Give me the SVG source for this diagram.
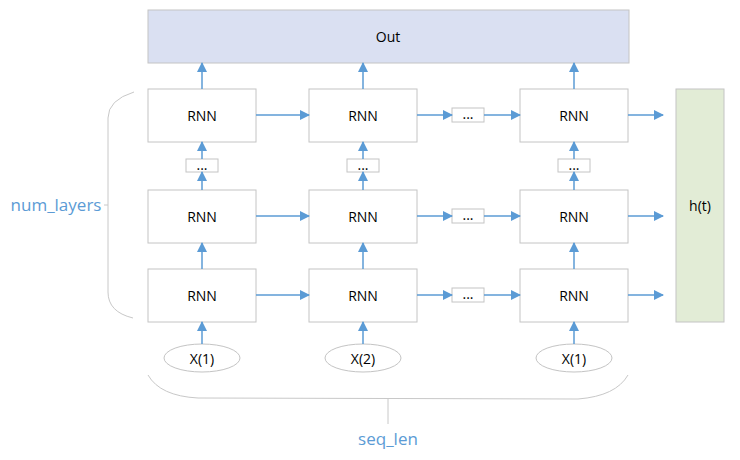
<svg xmlns="http://www.w3.org/2000/svg" width="740" height="460" viewBox="0 0 740 460">
<defs>
<marker id="ah" markerWidth="10" markerHeight="10" refX="9" refY="5" orient="auto" markerUnits="userSpaceOnUse">
<path d="M0,0 L10,5 L0,10 Z" fill="#5b9bd5"/>
</marker>
<style>
.box{fill:#ffffff;stroke:#c4c4c4;stroke-width:1}
.dot{fill:#ffffff;stroke:#c4c4c4;stroke-width:1}
.t{font-family:"Open Sans","Liberation Sans",sans-serif;font-size:14px;fill:#000;text-anchor:middle;dominant-baseline:central}
.lbl{font-family:"Open Sans","Liberation Sans",sans-serif;font-size:17px;fill:#5b9bd5;text-anchor:middle;dominant-baseline:central}
.c{stroke:#5b9bd5;stroke-width:1.5;fill:none;marker-end:url(#ah)}
.br{stroke:#c8c8c8;stroke-width:1;fill:none}
</style>
</defs>
<rect width="740" height="460" fill="#ffffff"/>
<g id="out"><rect x="148" y="10" width="481" height="53" fill="#dae0f2" stroke="#c4c4c4"/><text class="t" x="388" y="36">Out</text></g>
<g id="ht"><rect x="676" y="89" width="48" height="233" fill="#e2ecd6" stroke="#c4c4c4"/><text class="t" x="700" y="205">h(t)</text></g>
<g id="r11"><rect class="box" x="148" y="89" width="108" height="53"/><text class="t" x="202" y="115">RNN</text></g>
<g id="r12"><rect class="box" x="309" y="89" width="108" height="53"/><text class="t" x="363" y="115">RNN</text></g>
<g id="r13"><rect class="box" x="520" y="89" width="108" height="53"/><text class="t" x="574" y="115">RNN</text></g>
<g id="r21"><rect class="box" x="148" y="190" width="108" height="53"/><text class="t" x="202" y="216">RNN</text></g>
<g id="r22"><rect class="box" x="309" y="190" width="108" height="53"/><text class="t" x="363" y="216">RNN</text></g>
<g id="r23"><rect class="box" x="520" y="190" width="108" height="53"/><text class="t" x="574" y="216">RNN</text></g>
<g id="r31"><rect class="box" x="148" y="269" width="108" height="53"/><text class="t" x="202" y="295">RNN</text></g>
<g id="r32"><rect class="box" x="309" y="269" width="108" height="53"/><text class="t" x="363" y="295">RNN</text></g>
<g id="r33"><rect class="box" x="520" y="269" width="108" height="53"/><text class="t" x="574" y="295">RNN</text></g>
<g id="dv1"><rect class="dot" x="186" y="159" width="32" height="13"/><text class="t" x="202" y="164">...</text></g>
<g id="dv2"><rect class="dot" x="347" y="159" width="32" height="13"/><text class="t" x="363" y="164">...</text></g>
<g id="dv3"><rect class="dot" x="558" y="159" width="32" height="13"/><text class="t" x="574" y="164">...</text></g>
<g id="dh1"><rect class="dot" x="452" y="108" width="32" height="14"/><text class="t" x="468" y="113">...</text></g>
<g id="dh2"><rect class="dot" x="452" y="209" width="32" height="14"/><text class="t" x="468" y="214">...</text></g>
<g id="dh3"><rect class="dot" x="452" y="288" width="32" height="14"/><text class="t" x="468" y="293">...</text></g>
<g id="x1"><ellipse cx="202" cy="358" rx="38" ry="14" fill="#fff" stroke="#c4c4c4"/><text class="t" x="202" y="358">X(1)</text></g>
<g id="x2"><ellipse cx="363" cy="358" rx="38" ry="14" fill="#fff" stroke="#c4c4c4"/><text class="t" x="363" y="358">X(2)</text></g>
<g id="x3"><ellipse cx="574" cy="358" rx="38" ry="14" fill="#fff" stroke="#c4c4c4"/><text class="t" x="574" y="358">X(1)</text></g>
<g id="brackets">
<path class="br" d="M134,92 Q108,100 108,118 L108,292 Q108,312 133,318"/>
<path class="br" d="M108,205 L104,205"/>
<path class="br" d="M148,375 Q160,396 198,398 L578,399 Q616,396 628,375"/>
<path class="br" d="M388,399 L388,424"/>
<text class="lbl" x="56" y="204">num_layers</text>
<text class="lbl" x="388" y="438">seq_len</text>
</g>
<g id="connectors">
<path class="c" d="M202,89 V63"/><path class="c" d="M363,89 V63"/><path class="c" d="M574,89 V63"/>
<path class="c" d="M202,159 V142"/><path class="c" d="M363,159 V142"/><path class="c" d="M574,159 V142"/>
<path class="c" d="M202,190 V172"/><path class="c" d="M363,190 V172"/><path class="c" d="M574,190 V172"/>
<path class="c" d="M202,269 V243"/><path class="c" d="M363,269 V243"/><path class="c" d="M574,269 V243"/>
<path class="c" d="M202,344 V322"/><path class="c" d="M363,344 V322"/><path class="c" d="M574,344 V322"/>
<path class="c" d="M256,115 H309"/><path class="c" d="M417,115 H452"/><path class="c" d="M484,115 H520"/><path class="c" d="M628,115 H663"/>
<path class="c" d="M256,216 H309"/><path class="c" d="M417,216 H452"/><path class="c" d="M484,216 H520"/><path class="c" d="M628,216 H663"/>
<path class="c" d="M256,295 H309"/><path class="c" d="M417,295 H452"/><path class="c" d="M484,295 H520"/><path class="c" d="M628,295 H663"/>
</g>
</svg>
